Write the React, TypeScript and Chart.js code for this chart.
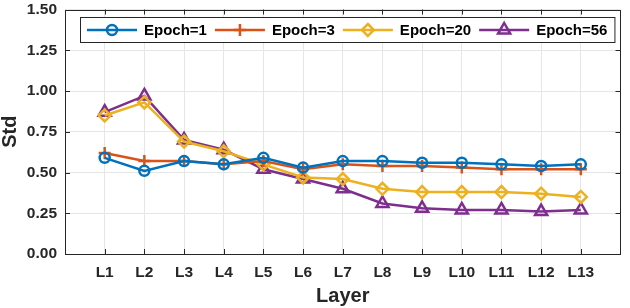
import React, { useEffect, useRef } from 'react';
import { Chart, registerables } from 'chart.js';

Chart.register(...registerables);

const layers = ['L1', 'L2', 'L3', 'L4', 'L5', 'L6', 'L7', 'L8', 'L9', 'L10', 'L11', 'L12', 'L13'];
const yTickValues = [0, 0.25, 0.5, 0.75, 1.0, 1.25, 1.5];
const seriesNames = ['Epoch=1', 'Epoch=3', 'Epoch=20', 'Epoch=56'];
const epoch1 = [0.59, 0.51, 0.57, 0.55, 0.59, 0.53, 0.57, 0.57, 0.56, 0.56, 0.55, 0.54, 0.55];
const epoch3 = [0.62, 0.57, 0.57, 0.55, 0.57, 0.52, 0.55, 0.54, 0.54, 0.53, 0.52, 0.52, 0.52];
const epoch20 = [0.85, 0.93, 0.69, 0.63, 0.55, 0.47, 0.46, 0.40, 0.38, 0.38, 0.38, 0.37, 0.35];
const epoch56 = [0.87, 0.97, 0.70, 0.64, 0.52, 0.46, 0.40, 0.31, 0.28, 0.27, 0.27, 0.26, 0.27];

const seriesValues = [epoch1, epoch3, epoch20, epoch56];
const colors = ['#0072BD', '#D95319', '#EDB120', '#7E2F8E'];
const markers = ['circle', 'cross', 'rectRot', 'triangle'];
const markerRadius = [5, 6, 6, 7];

const FONT = "'Liberation Sans', Arial, Helvetica, sans-serif";
const AXIS_COLOR = '#262626';

function drawMarker(ctx: CanvasRenderingContext2D, kind: string, x: number, y: number, r: number) {
  ctx.beginPath();
  if (kind === 'circle') {
    ctx.arc(x, y, r, 0, Math.PI * 2);
  } else if (kind === 'cross') {
    ctx.moveTo(x - r, y);
    ctx.lineTo(x + r, y);
    ctx.moveTo(x, y - r);
    ctx.lineTo(x, y + r);
  } else if (kind === 'rectRot') {
    ctx.moveTo(x, y - r);
    ctx.lineTo(x + r, y);
    ctx.lineTo(x, y + r);
    ctx.lineTo(x - r, y);
    ctx.closePath();
  } else if (kind === 'triangle') {
    for (let i = 0; i < 3; i++) {
      const a = (i * 2 * Math.PI) / 3;
      const px = x + Math.sin(a) * r;
      const py = y - Math.cos(a) * r;
      if (i === 0) ctx.moveTo(px, py);
      else ctx.lineTo(px, py);
    }
    ctx.closePath();
  }
  ctx.stroke();
}

const decorPlugin = {
  id: 'matlabDecor',
  afterDatasetsDraw(chart: any) {
    const { ctx, chartArea } = chart;
    const { left, right, top, bottom } = chartArea;
    const xs = chart.scales.x;
    const ys = chart.scales.y;
    ctx.save();
    ctx.strokeStyle = AXIS_COLOR;
    ctx.lineWidth = 1;
    ctx.strokeRect(Math.round(left) + 0.5, Math.round(top) + 0.5, Math.round(right - left) - 1, Math.round(bottom - top) - 1);
    const tl = 5;
    ctx.beginPath();
    xs.ticks.forEach((t: any) => {
      const px = Math.round(xs.getPixelForValue(t.value)) + 0.5;
      ctx.moveTo(px, bottom);
      ctx.lineTo(px, bottom - tl);
      ctx.moveTo(px, top);
      ctx.lineTo(px, top + tl);
    });
    ys.ticks.forEach((t: any) => {
      const py = Math.round(ys.getPixelForValue(t.value)) + 0.5;
      ctx.moveTo(left, py);
      ctx.lineTo(left + tl, py);
      ctx.moveTo(right, py);
      ctx.lineTo(right - tl, py);
    });
    ctx.stroke();
    ctx.restore();
  },
  afterDraw(chart: any) {
    const { ctx, chartArea } = chart;
    ctx.save();
    // axis titles
    ctx.fillStyle = AXIS_COLOR;
    ctx.font = `bold 20px ${FONT}`;
    ctx.textAlign = 'center';
    ctx.textBaseline = 'alphabetic';
    ctx.fillText('Layer', (chartArea.left + chartArea.right) / 2, 302);
    ctx.save();
    ctx.translate(16, (chartArea.top + chartArea.bottom) / 2);
    ctx.rotate(-Math.PI / 2);
    ctx.fillText('Std', 0, 0);
    ctx.restore();

    // legend
    ctx.font = `bold 15px ${FONT}`;
    const lineLen = 50;
    const textGap = 7;
    const itemGap = 8;
    const padL = 7;
    const padR = 7;
    let total = padL + padR;
    const widths = seriesNames.map((n) => ctx.measureText(n).width);
    widths.forEach((w, i) => {
      total += lineLen + textGap + w + (i < widths.length - 1 ? itemGap : 0);
    });
    const boxLeft = 80;
    const boxTop = 17;
    const boxH = 25;
    ctx.fillStyle = '#ffffff';
    ctx.fillRect(boxLeft, boxTop, total, boxH);
    ctx.strokeStyle = AXIS_COLOR;
    ctx.lineWidth = 1;
    ctx.strokeRect(boxLeft + 0.5, boxTop + 0.5, total, boxH);
    const cy = boxTop + boxH / 2 + 0.5;
    let x = boxLeft + padL;
    seriesNames.forEach((name, i) => {
      ctx.strokeStyle = colors[i];
      ctx.lineWidth = 2.5;
      ctx.beginPath();
      ctx.moveTo(x, cy);
      ctx.lineTo(x + lineLen, cy);
      ctx.stroke();
      drawMarker(ctx, markers[i], x + lineLen / 2, cy, markerRadius[i]);
      ctx.fillStyle = '#000000';
      ctx.textAlign = 'left';
      ctx.textBaseline = 'middle';
      ctx.fillText(name, x + lineLen + textGap, cy + 1);
      x += lineLen + textGap + widths[i] + itemGap;
    });
    ctx.restore();
  },
};

export default function App() {
  const canvasRef = useRef<HTMLCanvasElement | null>(null);

  useEffect(() => {
    if (!canvasRef.current) return;
    const datasets = seriesNames.map((name, i) => ({
      label: name,
      data: seriesValues[i].map((v, j) => ({ x: j + 1, y: v })),
      borderColor: colors[i],
      backgroundColor: 'rgba(0,0,0,0)',
      borderWidth: 2.5,
      pointStyle: markers[i] as any,
      pointRadius: markerRadius[i],
      pointBorderWidth: 2.5,
      pointBorderColor: colors[i],
      pointBackgroundColor: 'rgba(0,0,0,0)',
      tension: 0,
      fill: false,
    }));

    const chart = new Chart(canvasRef.current, {
      type: 'line',
      data: { datasets },
      plugins: [decorPlugin],
      options: {
        animation: false,
        responsive: false,
        devicePixelRatio: 1,
        events: [],
        layout: { padding: { top: 7, right: 5, left: 0, bottom: 0 } },
        plugins: { legend: { display: false }, tooltip: { enabled: false } },
        scales: {
          x: {
            type: 'linear',
            min: 0,
            max: layers.length + 1,
            afterBuildTicks: (scale: any) => {
              scale.ticks = layers.map((_, i) => ({ value: i + 1 }));
            },
            afterFit: (scale: any) => {
              scale.height = 54;
              scale.paddingLeft = 0;
              scale.paddingRight = 0;
            },
            ticks: {
              autoSkip: false,
              maxRotation: 0,
              padding: 9,
              color: AXIS_COLOR,
              font: { family: FONT, size: 15.5, weight: 'bold' },
              callback: (v: any) => layers[Number(v) - 1] ?? '',
            },
            grid: { color: '#e6e6e6', lineWidth: 1, drawTicks: false },
            border: { display: false },
          },
          y: {
            type: 'linear',
            min: 0,
            max: 1.5,
            afterBuildTicks: (scale: any) => {
              scale.ticks = yTickValues.map((v) => ({ value: v }));
            },
            afterFit: (scale: any) => {
              scale.width = 65;
              scale.paddingTop = 0;
              scale.paddingBottom = 0;
            },
            ticks: {
              padding: 8,
              color: AXIS_COLOR,
              font: { family: FONT, size: 15.5, weight: 'bold' },
              callback: (v: any) => Number(v).toFixed(2),
            },
            grid: { color: '#e6e6e6', lineWidth: 1, drawTicks: false },
            border: { display: false },
          },
        },
      },
    });
    return () => chart.destroy();
  }, []);

  return (
    <div style={{ position: 'fixed', left: 0, top: 0, width: 630, height: 308, background: '#ffffff' }}>
      <canvas ref={canvasRef} width={630} height={308} />
    </div>
  );
}
